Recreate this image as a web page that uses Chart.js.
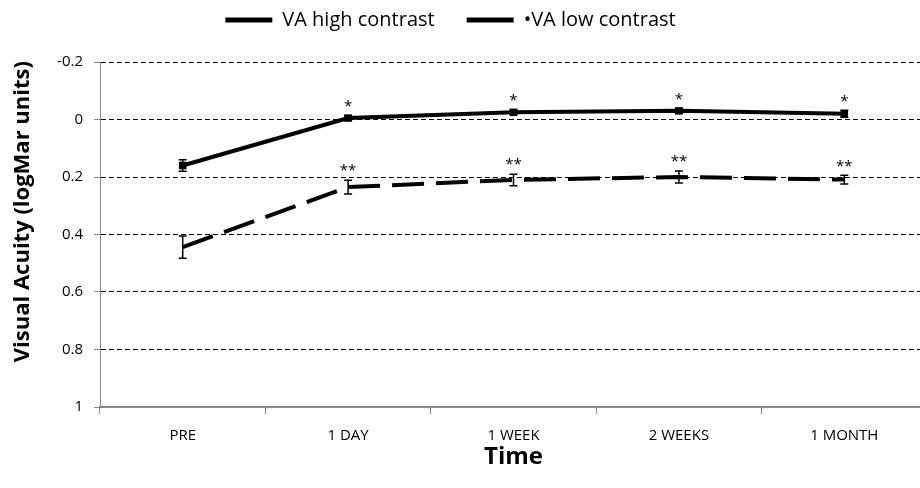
<!DOCTYPE html>
<html>
<head>
<meta charset="utf-8">
<script src="https://cdn.jsdelivr.net/npm/chart.js@4.4.1/dist/chart.umd.min.js"></script>
<style>
    html, body { margin: 0; padding: 0; background: #fff; overflow: hidden; }
    #wrap { width: 935px; height: 488px; }
</style>
</head>
<body>
<div id="wrap"><canvas id="acuityChart"></canvas></div>
<script>
// data (logMAR, lower is better -> axis reversed)
const categories = ['PRE', '1 DAY', '1 WEEK', '2 WEEKS', '1 MONTH'];
const highContrast = [0.16, -0.005, -0.025, -0.03, -0.02];
const highErr = [0.02, 0.008, 0.008, 0.008, 0.012];
const highMarks = ['', '*', '*', '*', '*'];
const lowContrast = [0.444, 0.235, 0.21, 0.2, 0.209];
const lowErr = [0.039, 0.024, 0.02, 0.021, 0.015];
const lowMarks = ['', '**', '**', '**', '**'];
const errors = [highErr, lowErr];
const marks = [highMarks, lowMarks];

const fontFamily = "'Open Sans', 'DejaVu Sans', sans-serif";

// error bars + significance stars, placed with the chart's own scales
const errorBars = {
    id: 'errorBars',
    afterDatasetsDraw: function (chart) {
        let ctx = chart.ctx;
        let yScale = chart.scales.y;
        ctx.save();
        chart.data.datasets.forEach(function (ds, i) {
            let meta = chart.getDatasetMeta(i);
            meta.data.forEach(function (pt, j) {
                let v = ds.data[j];
                let e = errors[i][j];
                let top = yScale.getPixelForValue(v - e);
                let bottom = yScale.getPixelForValue(v + e);
                ctx.strokeStyle = '#000';
                ctx.lineWidth = 1.5;
                ctx.setLineDash([]);
                ctx.beginPath();
                ctx.moveTo(pt.x, top);
                ctx.lineTo(pt.x, bottom);
                ctx.moveTo(pt.x - 4, top);
                ctx.lineTo(pt.x + 4, top);
                ctx.moveTo(pt.x - 4, bottom);
                ctx.lineTo(pt.x + 4, bottom);
                ctx.stroke();
                if (marks[i][j]) {
                    ctx.fillStyle = '#000';
                    ctx.font = '15px ' + fontFamily;
                    ctx.textAlign = 'center';
                    ctx.textBaseline = 'middle';
                    ctx.fillText(marks[i][j], pt.x, top - 9);
                }
            });
        });
        ctx.restore();
    }
};

// legend a bit left of centre, near the top, with a fixed gap above the plot
const legendPlace = {
    id: 'legendPlace',
    beforeInit: function (chart) {
        let fit = chart.legend.fit;
        chart.legend.fit = function () {
            fit.call(this);
            this.height = 62;
        };
    },
    afterLayout: function (chart) {
        chart.legend.right -= 31;
        chart.legend.top -= 22;
    }
};

let chart = new Chart(document.getElementById('acuityChart'), {
    type: 'line',
    data: {
        labels: categories,
        datasets: [{
            label: 'VA high contrast',
            data: highContrast,
            borderColor: '#000',
            backgroundColor: '#000',
            borderWidth: 4,
            pointStyle: 'rect',
            pointRadius: 2.5,
            tension: 0
        }, {
            label: '\u2022VA low contrast',
            data: lowContrast,
            borderColor: '#000',
            backgroundColor: '#000',
            borderWidth: 4,
            borderDash: [32, 12],
            pointRadius: 0,
            tension: 0
        }]
    },
    options: {
        responsive: true,
        maintainAspectRatio: false,
        animation: false,
        layout: { padding: { top: 0, right: 3, bottom: 0, left: 0 } },
        plugins: {
            legend: {
                position: 'top',
                labels: {
                    color: '#000',
                    font: { family: fontFamily, size: 20 },
                    boxWidth: 47,
                    boxHeight: 5,
                    padding: 32,
                    generateLabels: function (c) {
                        return c.data.datasets.map(function (ds, i) {
                            return {
                                text: ds.label,
                                fillStyle: '#000',
                                strokeStyle: '#000',
                                lineWidth: 0,
                                datasetIndex: i
                            };
                        });
                    }
                }
            },
            tooltip: { enabled: false }
        },
        scales: {
            x: {
                offset: true,
                afterFit: function (scale) { scale.height = 81; },
                grid: {
                    offset: true,
                    drawOnChartArea: false,
                    drawTicks: true,
                    tickLength: 7,
                    color: '#888'
                },
                border: { color: '#888', width: 2 },
                ticks: {
                    color: '#000',
                    font: { family: fontFamily, size: 15 },
                    padding: 13
                },
                title: {
                    display: true,
                    text: 'Time',
                    color: '#000',
                    font: { family: fontFamily, size: 24, weight: 'bold' },
                    padding: { top: 4, bottom: 16 }
                }
            },
            y: {
                reverse: true,
                min: -0.2,
                max: 1,
                afterFit: function (scale) { scale.width = 100; },
                ticks: {
                    stepSize: 0.2,
                    color: '#000',
                    font: { family: fontFamily, size: 15 },
                    padding: 11,
                    callback: function (v) { return Math.round(v * 10) / 10; }
                },
                grid: {
                    color: function (c) { return c.tick && Math.abs(c.tick.value - 1) < 1e-6 ? 'rgba(0,0,0,0)' : '#000'; },
                    tickColor: '#888',
                    tickLength: 6,
                    lineWidth: 1
                },
                border: { color: '#888', width: 1, dash: [5, 3] },
                title: {
                    display: true,
                    // leading spaces lift the title above the axis middle, as in the source
                    text: '        Visual Acuity (logMar units)',
                    color: '#000',
                    font: { family: fontFamily, size: 22, weight: 'bold' },
                    padding: { top: 10, bottom: 6 }
                }
            }
        }
    },
    plugins: [errorBars, legendPlace]
});
</script>
</body>
</html>
